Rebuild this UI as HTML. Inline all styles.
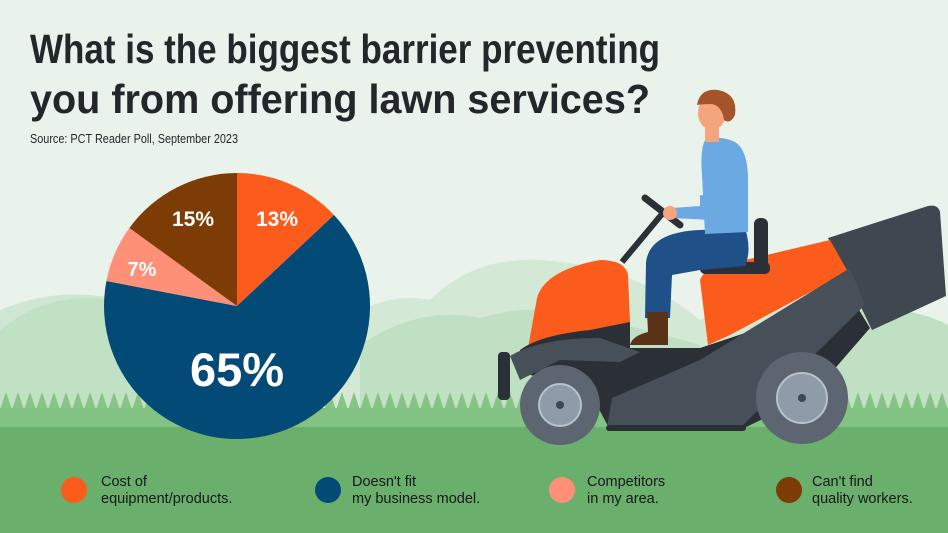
<!DOCTYPE html>
<html><head><meta charset="utf-8"><style>
html,body{margin:0;padding:0;background:#eaf3eb;}
svg{display:block;}
text{font-family:"Liberation Sans","DejaVu Sans",sans-serif;}
</style></head><body>
<svg width="948" height="533" viewBox="0 0 948 533" xmlns="http://www.w3.org/2000/svg">
<defs>
<pattern id="teeth" x="0" y="392" width="12" height="18" patternUnits="userSpaceOnUse">
<path d="M0 18 L6 0 L12 18 Z" fill="#86c486"/>
</pattern>
</defs>
<rect width="948" height="533" fill="#eaf3eb"/>
<!-- hills back -->
<path d="M0 310 Q60 285 120 300 Q170 290 200 310 L200 420 L0 420Z" fill="#cfe7d2"/>
<path d="M330 330 Q380 290 430 300 Q480 250 560 262 Q640 270 700 320 Q760 290 820 300 Q880 300 948 330 L948 420 L330 420Z" fill="#d3e9d5"/>
<path d="M0 330 Q50 290 110 300 Q150 300 175 320 L175 420 L0 420Z" fill="#c1e1c5"/>
<path d="M360 345 Q420 305 480 318 Q540 300 600 320 Q650 330 700 345 L700 420 L360 420Z" fill="#bfe0c3"/>
<path d="M780 350 Q840 300 900 310 Q930 315 948 325 L948 420 L780 420Z" fill="#bfe0c3"/>
<!-- grass teeth -->
<rect x="0" y="392" width="948" height="18" fill="url(#teeth)"/>
<rect x="0" y="408" width="948" height="20" fill="#82c282"/>
<rect x="0" y="427" width="948" height="106" fill="#6aaf6c"/>

<!-- title -->
<text x="30" y="63" font-size="41" font-weight="bold" fill="#23272b" textLength="630" lengthAdjust="spacingAndGlyphs">What is the biggest barrier preventing</text>
<text x="30" y="113" font-size="41" font-weight="bold" fill="#23272b" textLength="620" lengthAdjust="spacingAndGlyphs">you from offering lawn services?</text>
<text x="30" y="143" font-size="12.5" fill="#23272b" textLength="208" lengthAdjust="spacingAndGlyphs">Source: PCT Reader Poll, September 2023</text>

<!-- pie -->
<path d="M237 306 L237 173 A133 133 0 0 1 334 215 Z" fill="#fb5b1b"/>
<path d="M237 306 L334 215 A133 133 0 1 1 106.4 281 Z" fill="#034a76"/>
<path d="M237 306 L106.4 281 A133 133 0 0 1 129.4 228 Z" fill="#fd9077"/>
<path d="M237 306 L129.4 228 A133 133 0 0 1 237 173 Z" fill="#7d3c05"/>
<text x="277" y="226" font-size="21" font-weight="bold" fill="#fff" text-anchor="middle">13%</text>
<text x="193" y="226" font-size="21" font-weight="bold" fill="#fff" text-anchor="middle">15%</text>
<text x="142" y="276" font-size="20" font-weight="bold" fill="#fff" text-anchor="middle">7%</text>
<text x="237" y="386" font-size="47" font-weight="bold" fill="#fff" text-anchor="middle">65%</text>

<!-- mower -->
<path d="M828 238 L928 206 Q938 204 940 212 L946 296 L872 330 Z" fill="#3f4750"/>
<path d="M700 280 Q705 268 720 266 L830 240 L848 272 L730 335 L708 345 Z" fill="#fb5b1b"/>
<rect x="700" y="262" width="70" height="12" rx="5" fill="#2b3036"/>
<rect x="754" y="218" width="14" height="56" rx="6" fill="#2b3036"/>
<path d="M537 298 Q545 270 600 260 Q625 260 628 275 L630 322 L585 335 L528 348 Z" fill="#fb5b1b"/>
<path d="M520 350 Q540 335 590 330 L630 322 L630 348 L700 348 L760 328 L842 282 L870 328 L812 395 L740 430 L610 430 L590 392 L520 372 Z" fill="#2b3036"/>
<path d="M510 356 Q540 338 600 338 L640 352 L620 362 L560 360 L520 380 Z" fill="#474f58"/>
<rect x="498" y="352" width="12" height="48" rx="4" fill="#2b3036"/>
<path d="M607 428 L740 428 L865 305 L850 268 L700 360 L612 398 Z" fill="#474f58"/>
<rect x="606" y="425" width="140" height="6" rx="3" fill="#2b3036"/>
<circle cx="802" cy="398" r="46" fill="#5c6570"/>
<circle cx="802" cy="398" r="25" fill="#8f9ba8" stroke="#b8c2cc" stroke-width="2"/>
<circle cx="802" cy="398" r="4" fill="#3f4750"/>
<circle cx="560" cy="405" r="40" fill="#5c6570"/>
<circle cx="560" cy="405" r="21" fill="#8f9ba8" stroke="#b8c2cc" stroke-width="2"/>
<circle cx="560" cy="405" r="4" fill="#3f4750"/>
<line x1="622" y1="262" x2="662" y2="214" stroke="#2b3036" stroke-width="6"/>
<line x1="645" y1="198" x2="680" y2="225" stroke="#2b3036" stroke-width="7" stroke-linecap="round"/>
<!-- man -->
<path d="M646 262 Q650 232 700 230 L745 228 Q752 250 745 266 L700 270 L672 275 L670 318 L645 318 Z" fill="#1f5088"/>
<path d="M647 312 L668 312 L668 345 L630 345 Q632 336 648 332 Z" fill="#5a3218"/>
<path d="M705 140 Q720 135 735 142 Q748 150 748 180 L748 232 L705 234 L702 175 Q700 150 705 140 Z" fill="#6aa9e2"/>
<path d="M700 195 L712 196 L712 220 L672 218 L672 208 L700 206 Z" fill="#6aa9e2"/>
<circle cx="670" cy="213" r="7" fill="#f4a57e"/>
<rect x="705" y="122" width="14" height="20" fill="#f4a57e"/>
<ellipse cx="712" cy="113" rx="14" ry="17" fill="#f4a57e"/>
<path d="M697 105 Q700 88 718 90 Q738 94 735 115 Q730 125 724 120 Q722 106 712 104 Q702 104 697 105 Z" fill="#a3542a"/>

<!-- legend -->
<circle cx="74" cy="490" r="13" fill="#fb5b1b"/>
<circle cx="328" cy="490" r="13" fill="#034a76"/>
<circle cx="562" cy="490" r="13" fill="#fd9077"/>
<circle cx="789" cy="490" r="13" fill="#7d3c05"/>
<g font-size="14.5" fill="#15191c">
<text x="101" y="486">Cost of</text><text x="101" y="503">equipment/products.</text>
<text x="352" y="486">Doesn't fit</text><text x="352" y="503">my business model.</text>
<text x="587" y="486">Competitors</text><text x="587" y="503">in my area.</text>
<text x="812" y="486">Can't find</text><text x="812" y="503">quality workers.</text>
</g>
</svg>
</body></html>
